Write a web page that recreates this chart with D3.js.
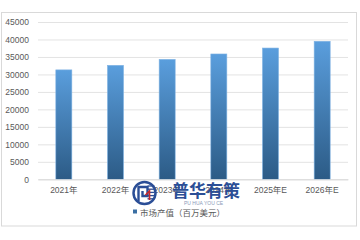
<!DOCTYPE html>
<html><head><meta charset="utf-8">
<script src="https://cdn.jsdelivr.net/npm/d3@7"></script>
<style>
html,body{margin:0;padding:0;background:#fff;}
svg{display:block;font-family:"Liberation Sans","Noto Sans CJK SC",sans-serif;}
</style></head>
<body>
<script>
// Market output value, millions of USD
const years = ["2021年", "2022年", "2023年", "2024年", "2025年E", "2026年E"];
const values = [31300, 32600, 34300, 35850, 37550, 39480];
const yTicks = [0, 5000, 10000, 15000, 20000, 25000, 30000, 35000, 40000, 45000];
const legendLabel = "市场产值（百万美元）";
const brandName = "普华有策";
const brandSub = "PU HUA YOU CE";

const W = 360, H = 240;
const svg = d3.select("body").append("svg").attr("width", W).attr("height", H);

// outer frame
svg.append("rect").attr("x", 1.5).attr("y", 12.5).attr("width", 355).attr("height", 213.5)
  .attr("fill", "#fff").attr("stroke", "#d9d9d9").attr("stroke-width", 1);

const x = d3.scaleBand().domain(years).range([38, 348]).paddingInner(0.69).paddingOuter(0.345);
const y = d3.scaleLinear().domain([0, 45000]).range([179.3, 22]);

const defs = svg.append("defs");
const grad = defs.append("linearGradient").attr("id", "barFill")
  .attr("x1", 0).attr("y1", 0).attr("x2", 0).attr("y2", 1);
grad.append("stop").attr("offset", "0%").attr("stop-color", "#5a9edd");
grad.append("stop").attr("offset", "100%").attr("stop-color", "#2c5b86");

// gridlines + y labels
const yAxis = d3.axisLeft(y).tickValues(yTicks).tickSize(-(348 - 38)).tickPadding(9).tickFormat(d3.format("d"));
const gy = svg.append("g").attr("transform", "translate(38,0)").call(yAxis);
gy.select(".domain").remove();
gy.selectAll(".tick line").attr("stroke", "#e3e3e3").attr("stroke-width", 1);
gy.selectAll(".tick text").attr("fill", "#595959").attr("font-size", 8.5);

// bars
svg.append("g").selectAll("rect").data(values).join("rect")
  .attr("x", (d, i) => x(years[i]))
  .attr("y", d => y(d))
  .attr("width", x.bandwidth())
  .attr("height", d => y(0) - y(d))
  .attr("fill", "url(#barFill)")
  .attr("stroke", "#7fb2e3").attr("stroke-width", 0.6);

// category axis
const xAxis = d3.axisBottom(x).tickSize(0).tickPadding(8);
const gx = svg.append("g").attr("transform", `translate(0,${y(0)})`).call(xAxis);
gx.select(".domain").attr("stroke", "#d9d9d9");
gx.selectAll(".tick text").attr("fill", "#595959").attr("font-size", 8.5)
  .attr("font-family", "'Liberation Sans','Noto Sans CJK SC',sans-serif");

// legend
svg.append("rect").attr("x", 133).attr("y", 209.5).attr("width", 4).attr("height", 4).attr("fill", "#3a6fa3");
svg.append("text").attr("x", 140).attr("y", 215.5).attr("font-size", 8.5).attr("fill", "#595959")
  .attr("font-family", "'Noto Sans CJK SC',sans-serif").text(legendLabel);

// brand mark
const logo = svg.append("g").attr("transform", "translate(144.5,193)");
logo.append("circle").attr("r", 11).attr("fill", "#fff").attr("stroke", "#2b4e96").attr("stroke-width", 2.5);
for (let k = 0; k < 5; k++) {
  logo.append("line").attr("x1", 3).attr("x2", 10).attr("y1", -7 + k * 3.2).attr("y2", -7 + k * 3.2)
    .attr("stroke", "#2b4e96").attr("stroke-width", 1.3);
}
logo.append("path").attr("d", "M-6,8 V-6 H3 V3 H-2 V-2").attr("fill", "none")
  .attr("stroke", "#2b4e96").attr("stroke-width", 2.4);
logo.append("path").attr("d", "M1,2 L5,-2 L5,7").attr("fill", "none").attr("stroke", "#c8262a").attr("stroke-width", 1.6);

svg.append("text").attr("x", 172).attr("y", 197).attr("font-size", 17).attr("font-weight", "bold")
  .attr("fill", "#2b4e96").attr("font-family", "'Noto Sans CJK SC',sans-serif").text(brandName);
svg.append("text").attr("x", 184).attr("y", 205).attr("font-size", 5).attr("fill", "#8a9ab8")
  .attr("font-family", "'Liberation Sans',sans-serif").text(brandSub);
</script>
</body></html>
